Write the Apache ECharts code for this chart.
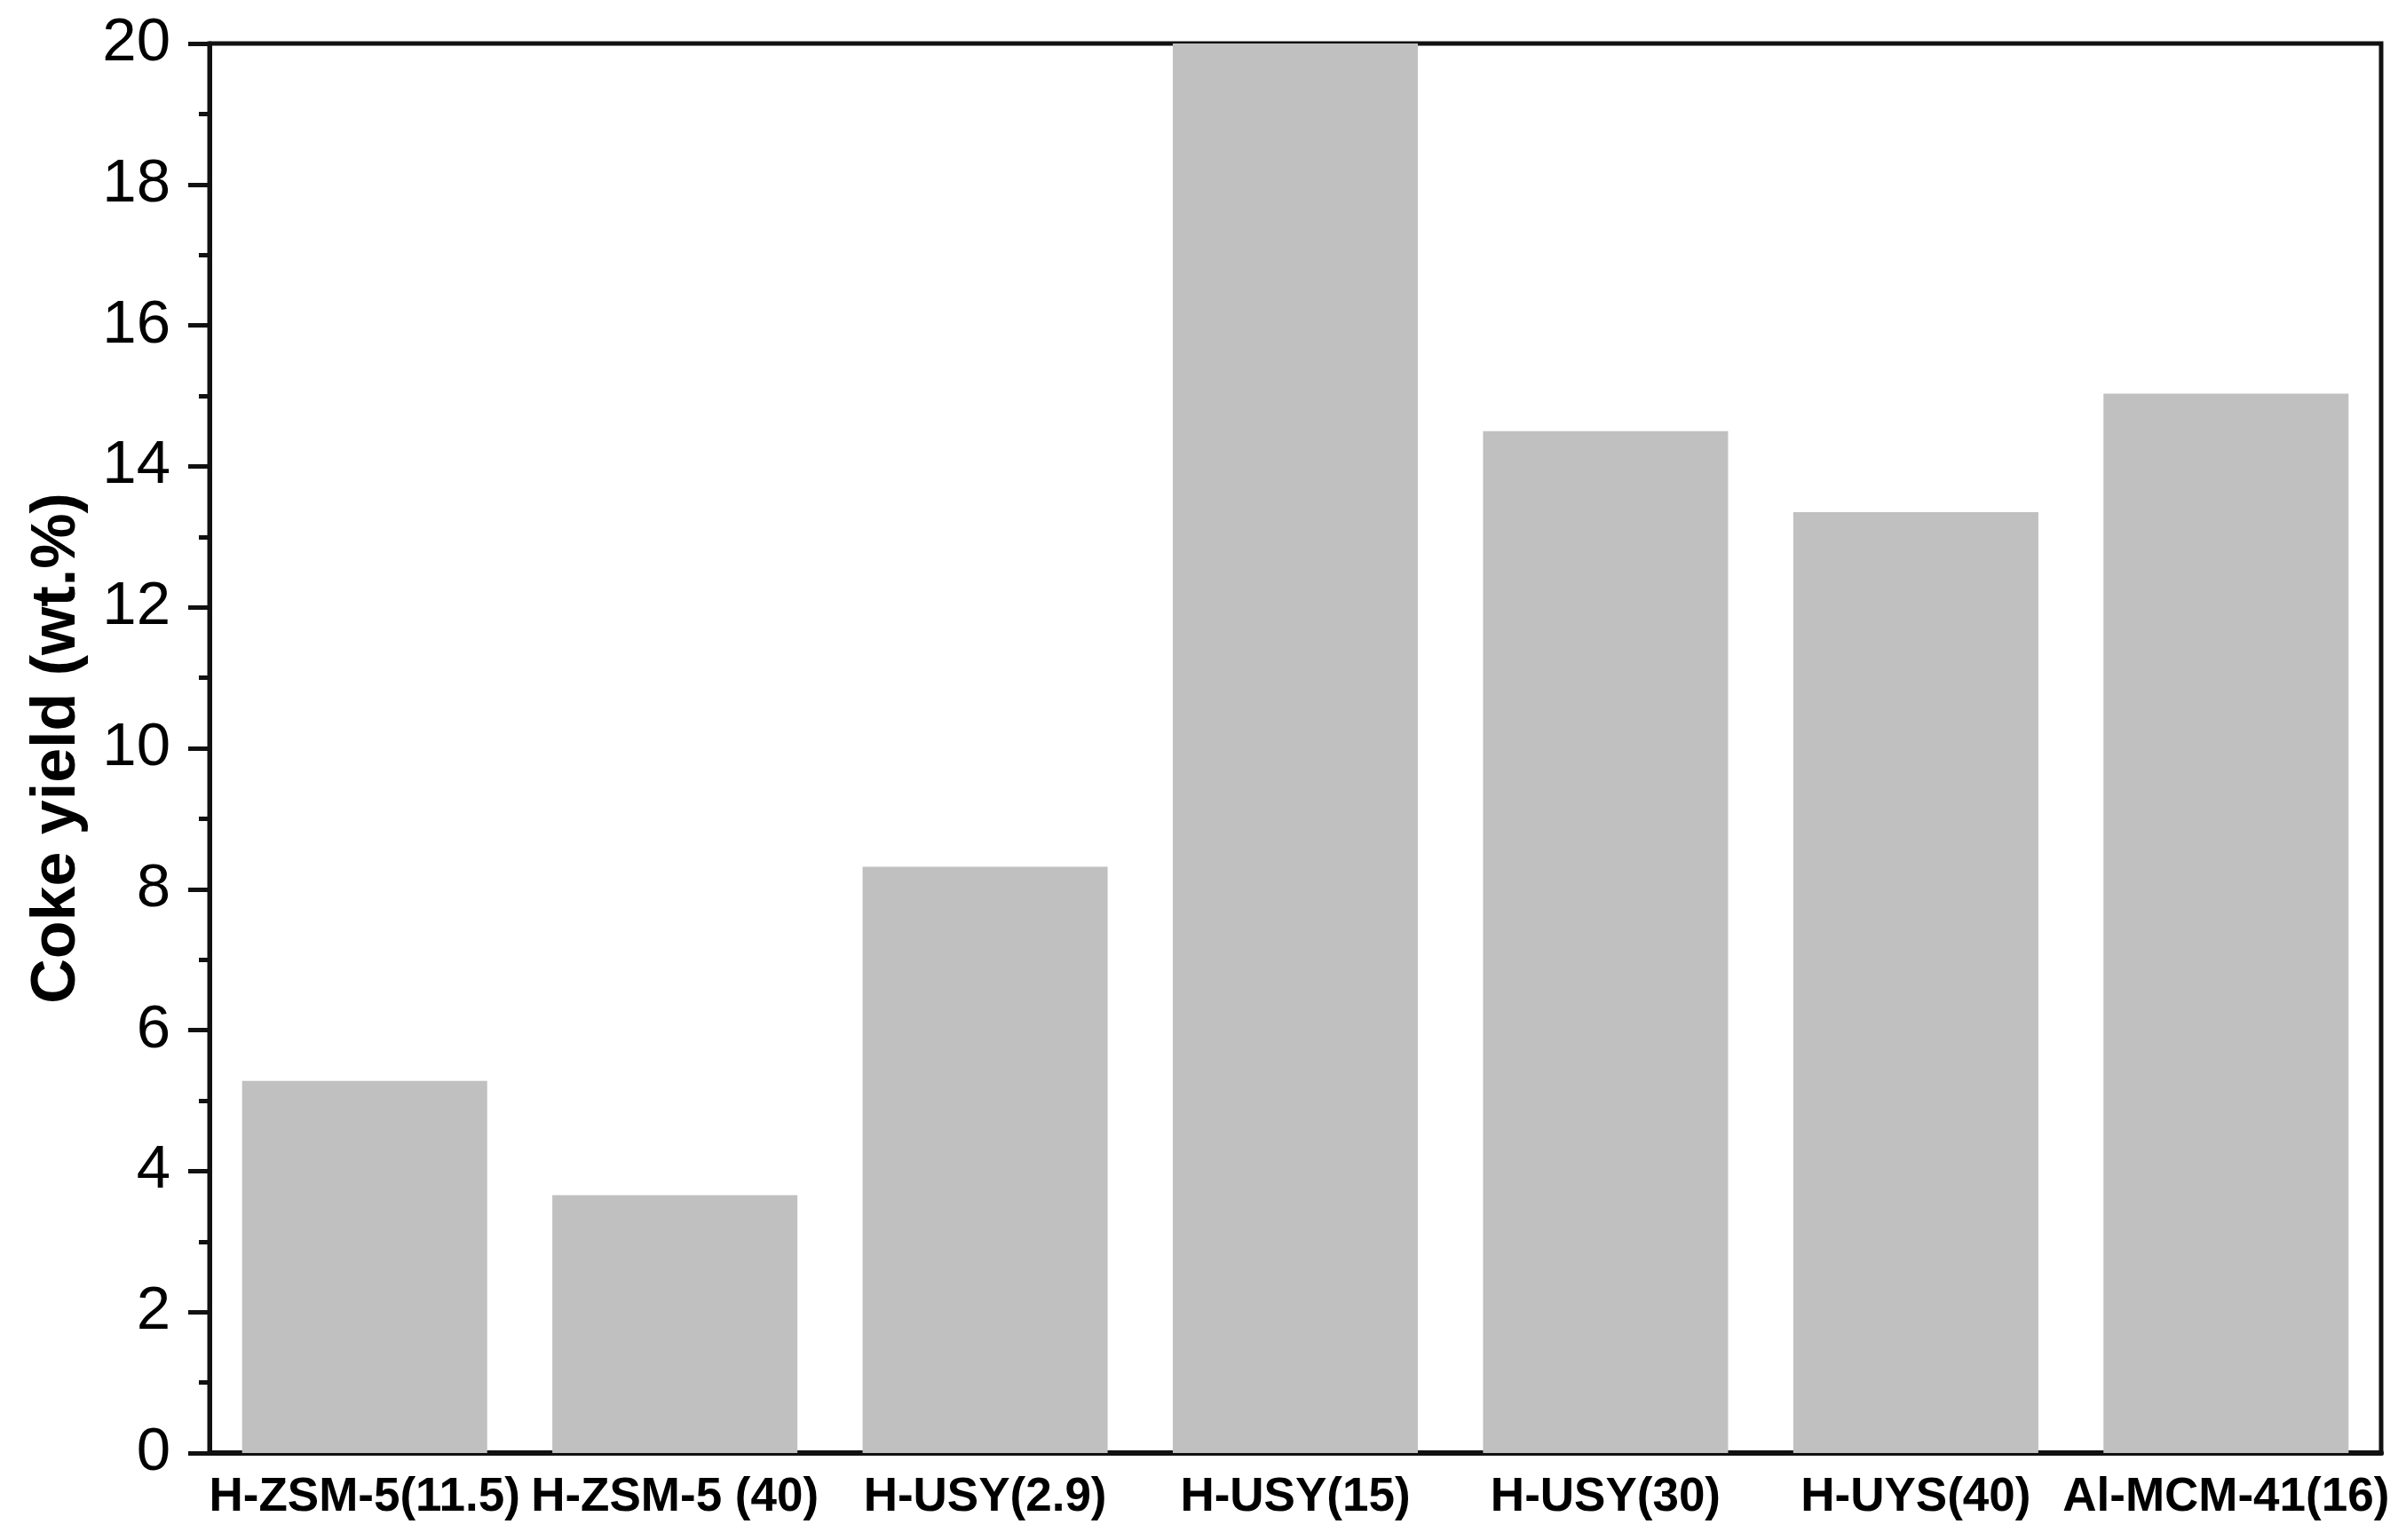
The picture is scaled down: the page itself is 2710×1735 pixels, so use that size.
<!DOCTYPE html>
<html>
<head>
<meta charset="utf-8">
<script src="https://cdn.jsdelivr.net/npm/echarts@6/dist/echarts.min.js"></script>
<style>
html,body{margin:0;padding:0;background:#fff;}
#chart{width:2710px;height:1735px;}
</style>
</head>
<body>
<div id="chart"></div>
<script>
const categories = ['H-ZSM-5(11.5)', 'H-ZSM-5 (40)', 'H-USY(2.9)', 'H-USY(15)', 'H-USY(30)', 'H-UYS(40)', 'Al-MCM-41(16)'];
const cokeYield = [5.28, 3.66, 8.32, 20, 14.5, 13.35, 15.03];
const yTicks = [0, 2, 4, 6, 8, 10, 12, 14, 16, 18, 20];
const yTitle = 'Coke yield (wt.%)';

const font = "'Liberation Sans', Arial, Helvetica, sans-serif";
const chart = echarts.init(document.getElementById('chart'));
chart.setOption({
  backgroundColor: '#ffffff',
  animation: false,
  grid: { left: 236, right: 28, top: 49, bottom: 98, show: true, borderColor: '#111', borderWidth: 5, backgroundColor: 'transparent' },
  xAxis: {
    type: 'category',
    data: categories,
    axisLine: { show: true, lineStyle: { color: '#111', width: 6 } },
    axisTick: { show: false },
    axisLabel: { color: '#000', fontFamily: font, fontWeight: 'bold', fontSize: 53, margin: 24, interval: 0 },
    splitLine: { show: false }
  },
  yAxis: {
    type: 'value',
    min: yTicks[0],
    max: yTicks[yTicks.length - 1],
    interval: 2,
    name: yTitle,
    nameLocation: 'middle',
    nameGap: 136,
    nameRotate: 90,
    nameTextStyle: { color: '#000', fontFamily: font, fontWeight: 'bold', fontSize: 70 },
    axisLine: { show: true, lineStyle: { color: '#111', width: 5 } },
    axisTick: { show: true, inside: false, length: 24, lineStyle: { color: '#111', width: 5 } },
    minorTick: { show: true, splitNumber: 2, length: 12, lineStyle: { color: '#111', width: 5 } },
    axisLabel: { color: '#000', fontFamily: font, fontSize: 69, margin: 44 },
    splitLine: { show: false }
  },
  series: [{
    type: 'bar',
    data: cokeYield,
    barCategoryGap: '21%',
    itemStyle: { color: '#c0c0c0' },
    z: 1
  }]
});
</script>
</body>
</html>
